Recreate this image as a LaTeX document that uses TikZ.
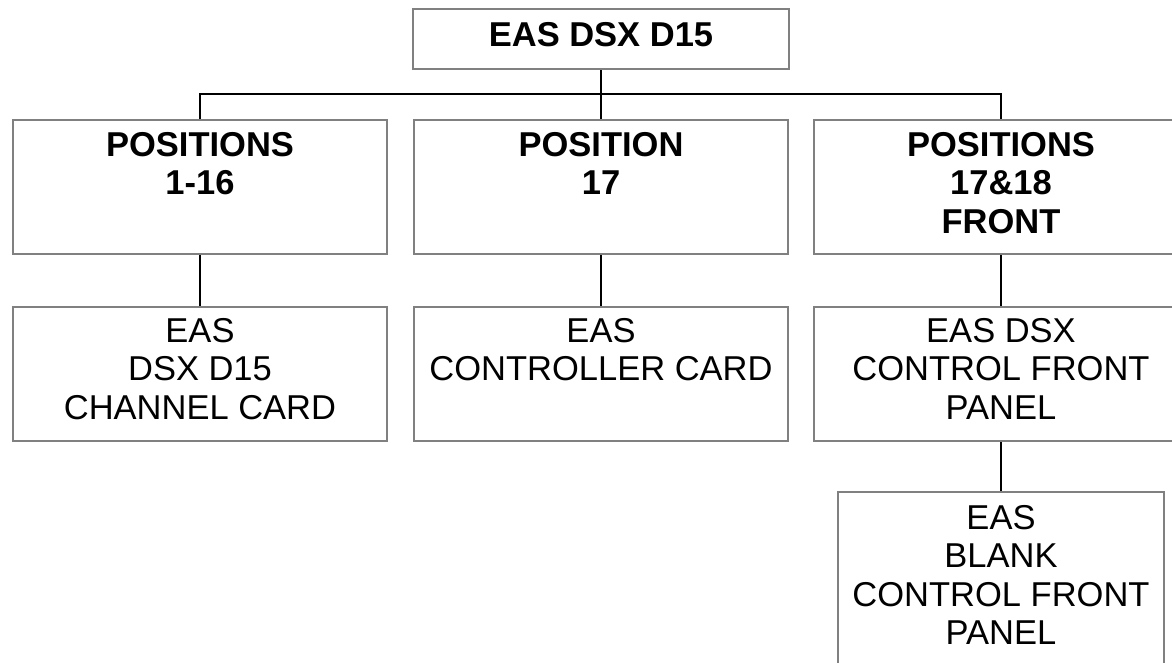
\documentclass[tikz,border=0pt]{standalone}
\usepackage{fontspec}
\setmainfont{Liberation Sans}
\definecolor{boxgray}{HTML}{808080}
\begin{document}
\begin{tikzpicture}[x=1pt,y=-1pt,
  box/.style={draw=boxgray,line width=2pt,rectangle,inner sep=0pt,fill=none},
  txt/.style={anchor=north,inner sep=0pt,align=center,font=\fontsize{34.5}{38.5}\selectfont},
  btxt/.style={txt,font=\fontsize{34.5}{38.5}\selectfont\bfseries},
  conn/.style={draw=black,line width=1.6pt}]
\useasboundingbox (0,0) rectangle (1172,662);
\clip (0,0) rectangle (1172,662);
\fill[white] (0,0) rectangle (1172,662);
% boxes
\node[box,minimum width=376pt,minimum height=60pt] (top) at (601,39) {};
\node[box,minimum width=374pt,minimum height=134pt] (p1) at (200,187) {};
\node[box,minimum width=374pt,minimum height=134pt] (p2) at (601,187) {};
\node[box,minimum width=374pt,minimum height=134pt] (p3) at (1001,187) {};
\node[box,minimum width=374pt,minimum height=134pt] (c1) at (200,374) {};
\node[box,minimum width=374pt,minimum height=134pt] (c2) at (601,374) {};
\node[box,minimum width=374pt,minimum height=134pt] (c3) at (1001,374) {};
\node[box,minimum width=326pt,minimum height=190pt] (c4) at (1001,587) {};
% texts
\node[btxt] (ttop) at (601,22) {EAS DSX D15};
\node[btxt] (tp1) at (200,132) {POSITIONS\\1-16};
\node[btxt] (tp2) at (601,132) {POSITION\\17};
\node[btxt] (tp3) at (1001,132) {POSITIONS\\17\&18\\FRONT};
\node[txt] (tc1) at (200,318) {EAS\\DSX D15\\CHANNEL CARD};
\node[txt] (tc2) at (601,318) {EAS\\CONTROLLER CARD};
\node[txt] (tc3) at (1001,318) {EAS DSX\\CONTROL FRONT\\PANEL};
\node[txt] (tc4) at (1001,505) {EAS\\BLANK\\CONTROL FRONT\\PANEL};
% connectors
\coordinate (bus) at (601,94);
\draw[conn] (top.south) -- (p2.north);
\draw[conn] (p1.north) -- (p1.north |- bus) -- (p3.north |- bus) -- (p3.north);
\draw[conn] (p1.south) -- (c1.north);
\draw[conn] (p2.south) -- (c2.north);
\draw[conn] (p3.south) -- (c3.north);
\draw[conn] (c3.south) -- (c4.north);
\end{tikzpicture}
\end{document}
